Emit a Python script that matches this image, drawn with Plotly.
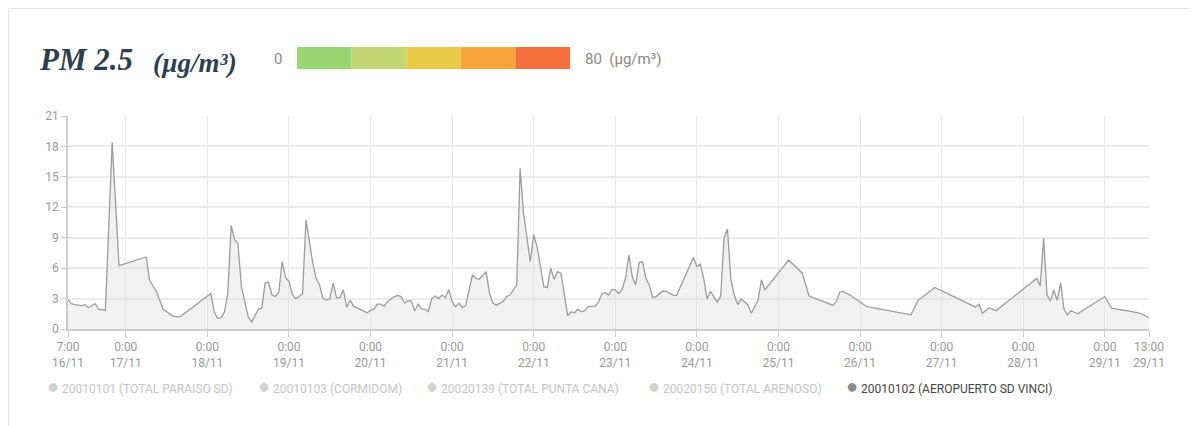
import plotly.graph_objects as go

# PM 2.5 readings, station 20010102 (AEROPUERTO SD VINCI)
times = [
    "2019-11-16 07:00", "2019-11-16 08:00", "2019-11-16 09:00", "2019-11-16 11:00", "2019-11-16 12:00",
    "2019-11-16 13:00", "2019-11-16 15:00", "2019-11-16 16:00", "2019-11-16 18:00", "2019-11-16 20:00",
    "2019-11-16 22:00", "2019-11-17 06:00", "2019-11-17 07:00", "2019-11-17 09:00", "2019-11-17 11:00",
    "2019-11-17 14:00", "2019-11-17 16:00", "2019-11-18 01:00", "2019-11-18 02:00", "2019-11-18 03:00",
    "2019-11-18 04:00", "2019-11-18 05:00", "2019-11-18 06:00", "2019-11-18 07:00", "2019-11-18 08:00",
    "2019-11-18 09:00", "2019-11-18 10:00", "2019-11-18 11:00", "2019-11-18 12:00", "2019-11-18 13:00",
    "2019-11-18 15:00", "2019-11-18 16:00", "2019-11-18 17:00", "2019-11-18 18:00", "2019-11-18 19:00",
    "2019-11-18 20:00", "2019-11-18 21:00", "2019-11-18 22:00", "2019-11-18 23:00", "2019-11-19 00:00",
    "2019-11-19 01:00", "2019-11-19 02:00", "2019-11-19 04:00", "2019-11-19 05:00", "2019-11-19 06:00",
    "2019-11-19 07:00", "2019-11-19 08:00", "2019-11-19 09:00", "2019-11-19 10:00", "2019-11-19 11:00",
    "2019-11-19 12:00", "2019-11-19 13:00", "2019-11-19 14:00", "2019-11-19 15:00", "2019-11-19 16:00",
    "2019-11-19 17:00", "2019-11-19 18:00", "2019-11-19 19:00", "2019-11-19 23:00", "2019-11-20 00:00",
    "2019-11-20 01:00", "2019-11-20 02:00", "2019-11-20 03:00", "2019-11-20 04:00", "2019-11-20 05:00",
    "2019-11-20 07:00", "2019-11-20 08:00", "2019-11-20 09:00", "2019-11-20 10:00", "2019-11-20 11:00",
    "2019-11-20 12:00", "2019-11-20 13:00", "2019-11-20 14:00", "2019-11-20 15:00", "2019-11-20 16:00",
    "2019-11-20 17:00", "2019-11-20 18:00", "2019-11-20 19:00", "2019-11-20 20:00", "2019-11-20 21:00",
    "2019-11-20 22:00", "2019-11-20 23:00", "2019-11-21 00:00", "2019-11-21 01:00", "2019-11-21 02:00",
    "2019-11-21 03:00", "2019-11-21 04:00", "2019-11-21 06:00", "2019-11-21 07:00", "2019-11-21 08:00",
    "2019-11-21 10:00", "2019-11-21 11:00", "2019-11-21 12:00", "2019-11-21 13:00", "2019-11-21 15:00",
    "2019-11-21 16:00", "2019-11-21 17:00", "2019-11-21 18:00", "2019-11-21 19:00", "2019-11-21 20:00",
    "2019-11-21 21:00", "2019-11-21 23:00", "2019-11-22 00:00", "2019-11-22 01:00", "2019-11-22 02:00",
    "2019-11-22 03:00", "2019-11-22 04:00", "2019-11-22 05:00", "2019-11-22 06:00", "2019-11-22 07:00",
    "2019-11-22 08:00", "2019-11-22 10:00", "2019-11-22 11:00", "2019-11-22 12:00", "2019-11-22 13:00",
    "2019-11-22 14:00", "2019-11-22 15:00", "2019-11-22 16:00", "2019-11-22 18:00", "2019-11-22 19:00",
    "2019-11-22 20:00", "2019-11-22 21:00", "2019-11-22 22:00", "2019-11-22 23:00", "2019-11-23 00:00",
    "2019-11-23 01:00", "2019-11-23 02:00", "2019-11-23 03:00", "2019-11-23 04:00", "2019-11-23 05:00",
    "2019-11-23 06:00", "2019-11-23 07:00", "2019-11-23 08:00", "2019-11-23 09:00", "2019-11-23 10:00",
    "2019-11-23 11:00", "2019-11-23 12:00", "2019-11-23 14:00", "2019-11-23 15:00", "2019-11-23 17:00",
    "2019-11-23 18:00", "2019-11-23 23:00", "2019-11-24 00:00", "2019-11-24 01:00", "2019-11-24 02:00",
    "2019-11-24 03:00", "2019-11-24 04:00", "2019-11-24 05:00", "2019-11-24 06:00", "2019-11-24 07:00",
    "2019-11-24 08:00", "2019-11-24 09:00", "2019-11-24 10:00", "2019-11-24 11:00", "2019-11-24 12:00",
    "2019-11-24 13:00", "2019-11-24 15:00", "2019-11-24 16:00", "2019-11-24 18:00", "2019-11-24 19:00",
    "2019-11-24 20:00", "2019-11-25 03:00", "2019-11-25 07:00", "2019-11-25 09:00", "2019-11-25 16:00",
    "2019-11-25 17:00", "2019-11-25 18:00", "2019-11-25 19:00", "2019-11-25 21:00", "2019-11-26 02:00",
    "2019-11-26 15:00", "2019-11-26 17:00", "2019-11-26 22:00", "2019-11-27 10:00", "2019-11-27 11:00",
    "2019-11-27 12:00", "2019-11-27 14:00", "2019-11-27 16:00", "2019-11-28 04:00", "2019-11-28 05:00",
    "2019-11-28 06:00", "2019-11-28 07:00", "2019-11-28 08:00", "2019-11-28 09:00", "2019-11-28 10:00",
    "2019-11-28 11:00", "2019-11-28 12:00", "2019-11-28 13:00", "2019-11-28 14:00", "2019-11-28 16:00",
    "2019-11-29 00:00", "2019-11-29 02:00", "2019-11-29 10:00", "2019-11-29 13:00",
]
pm25 = [
    2.9, 2.5, 2.4, 2.3, 2.4,
    2.1, 2.5, 1.95, 1.85, 18.4,
    6.25, 7.1, 4.8, 3.7, 1.95,
    1.25, 1.2, 3.5, 1.7, 1.05,
    1.1, 1.65, 3.5, 10.2, 8.8,
    8.4, 4.2, 2.85, 1.2, 0.7,
    1.95, 2.05, 4.55, 4.6, 3.35,
    3.2, 3.6, 6.65, 5.05, 4.7,
    3.4, 3.0, 3.45, 10.75, 8.6,
    6.5, 5.0, 4.35, 3.0, 2.85,
    2.95, 4.55, 3.1, 3.1, 3.85,
    2.15, 2.85, 2.25, 1.6, 1.85,
    1.95, 2.45, 2.45, 2.25, 2.7,
    3.2, 3.3, 3.2, 2.55, 2.8,
    2.75, 1.8, 2.45, 1.95, 1.95,
    1.7, 3.0, 3.25, 3.0, 3.35,
    3.1, 3.9, 2.7, 2.2, 2.55,
    2.1, 2.35, 5.35, 5.0, 4.9,
    5.65, 3.5, 2.55, 2.35, 2.7,
    3.2, 3.35, 3.85, 4.35, 15.85,
    11.4, 6.65, 9.3, 8.1, 6.15,
    4.15, 4.1, 6.0, 4.9, 5.65,
    5.5, 1.3, 1.7, 1.6, 1.95,
    1.7, 1.8, 2.2, 2.25, 2.6,
    3.45, 3.6, 3.35, 3.9, 3.85,
    3.5, 3.9, 5.0, 7.3, 5.15,
    4.35, 6.55, 6.65, 5.0, 4.35,
    3.1, 3.2, 3.75, 3.7, 3.35,
    3.3, 7.05, 6.15, 6.4, 5.0,
    2.95, 3.7, 3.2, 2.65, 3.25,
    8.95, 9.85, 4.85, 3.35, 2.4,
    2.95, 2.4, 1.55, 2.85, 4.85,
    3.85, 6.8, 5.5, 3.25, 2.35,
    2.7, 3.6, 3.7, 3.35, 2.2,
    1.4, 2.8, 4.1, 2.15, 2.45,
    1.55, 2.1, 1.8, 5.0, 4.25,
    8.95, 3.35, 2.75, 3.85, 2.8,
    4.55, 1.95, 1.4, 1.8, 1.5,
    3.2, 2.05, 1.6, 1.15,
]

tick_times = ["2019-11-16 07:00"] + ["2019-11-%02d 00:00" % d for d in range(17, 30)] + ["2019-11-29 13:00"]
tick_labels = ["7:00<br>16/11"] + ["0:00<br>%d/11" % d for d in range(17, 30)] + ["13:00<br>29/11"]

stations = ["20010101 (TOTAL PARAISO SD)", "20010103 (CORMIDOM)", "20020139 (TOTAL PUNTA CANA)",
            "20020150 (TOTAL ARENOSO)", "20010102 (AEROPUERTO SD VINCI)"]
station_active = [False, False, False, False, True]
scale_colors = ["#97d673", "#c3d673", "#ebca47", "#f6a43b", "#f5703c"]

# the page adds an 8px body margin, so the figure is that much smaller
OFF = 8
W, H = 1197 - OFF, 426 - OFF
L, R, T, B = 68 - OFF, 1149 - OFF, 116 - OFF, 329 - OFF


def px(x):
    # screen x -> paper coordinate
    return (x - OFF - L) / (R - L)


def py(y):
    return (B - (y - OFF)) / (B - T)


fig = go.Figure()

fig.add_trace(go.Scatter(
    x=times, y=pm25, mode="lines", showlegend=False,
    name=stations[4],
    line=dict(color="#9c9c9c", width=1.3),
    fill="tozeroy", fillcolor="rgba(225,225,225,0.45)",
    hoverinfo="x+y",
))

shapes = []
# card border (left and top edges only, the rest is outside the view)
shapes.append(dict(type="line", xref="paper", yref="paper", x0=px(8.5), x1=px(1197), y0=py(8.5), y1=py(8.5),
                   line=dict(color="#e4e4e4", width=1), layer="below"))
shapes.append(dict(type="line", xref="paper", yref="paper", x0=px(8.5), x1=px(8.5), y0=py(8.5), y1=py(426),
                   line=dict(color="#e4e4e4", width=1), layer="below"))
# colour scale bar
seg_w = (570 - 297) / len(scale_colors)
for i, c in enumerate(scale_colors):
    shapes.append(dict(type="rect", xref="paper", yref="paper",
                       x0=px(297 + i * seg_w), x1=px(297 + (i + 1) * seg_w),
                       y0=py(69), y1=py(47), fillcolor=c, line=dict(width=0)))

annotations = [
    dict(text="<b><i>PM 2.5</i></b>", x=px(37), y=py(60), xref="paper", yref="paper",
         xanchor="left", yanchor="middle", showarrow=False,
         font=dict(family="Liberation Serif", size=31, color="#2d3e50")),
    dict(text="<b><i>(µg/m³)</i></b>", x=px(151), y=py(63), xref="paper", yref="paper",
         xanchor="left", yanchor="middle", showarrow=False,
         font=dict(family="Liberation Serif", size=27, color="#2d3e50")),
    dict(text="0", x=px(284), y=py(59), xref="paper", yref="paper",
         xanchor="right", yanchor="middle", showarrow=False,
         font=dict(family="Roboto", size=15, color="#888888")),
    dict(text="80  (µg/m³)", x=px(583), y=py(59), xref="paper", yref="paper",
         xanchor="left", yanchor="middle", showarrow=False,
         font=dict(family="Roboto", size=15, color="#888888")),
]

# legend row under the chart
legend_x = [45, 256, 424, 646, 844]
for name, active, lx in zip(stations, station_active, legend_x):
    dot = "#8c8c8c" if active else "#d2d2d2"
    txt = "#444444" if active else "#c4c4c4"
    annotations.append(dict(
        text="<span style='color:%s;font-size:20px'>●</span> <span style='color:%s'>%s</span>" % (dot, txt, name),
        x=px(lx), y=py(386), xref="paper", yref="paper", xanchor="left", yanchor="middle",
        showarrow=False, font=dict(family="Roboto", size=12),
    ))

fig.update_layout(
    width=W, height=H,
    margin=dict(l=L, r=W - R, t=T, b=H - B),
    paper_bgcolor="white", plot_bgcolor="white",
    font=dict(family="Roboto", size=12, color="#999999"),
    shapes=shapes, annotations=annotations,
    showlegend=False,
    hovermode="x",
)

fig.update_xaxes(
    type="date", range=[times[0], times[-1]],
    tickvals=tick_times, ticktext=tick_labels,
    showgrid=True, gridcolor="#e8e8e8", gridwidth=1,
    showline=True, linecolor="#cccccc", linewidth=1.5,
    ticks="outside", ticklen=6, tickcolor="#cccccc",
    tickfont=dict(size=12, color="#999999"),
    zeroline=False,
)
fig.update_yaxes(
    range=[0, 21], tickvals=[0, 3, 6, 9, 12, 15, 18, 21],
    showgrid=True, gridcolor="#ebebeb", gridwidth=1.5,
    showline=True, linecolor="#cccccc", linewidth=1.5,
    ticks="outside", ticklen=5, tickcolor="#cccccc",
    tickfont=dict(size=12, color="#999999"),
    zeroline=False,
)

fig.write_html("out.html")
